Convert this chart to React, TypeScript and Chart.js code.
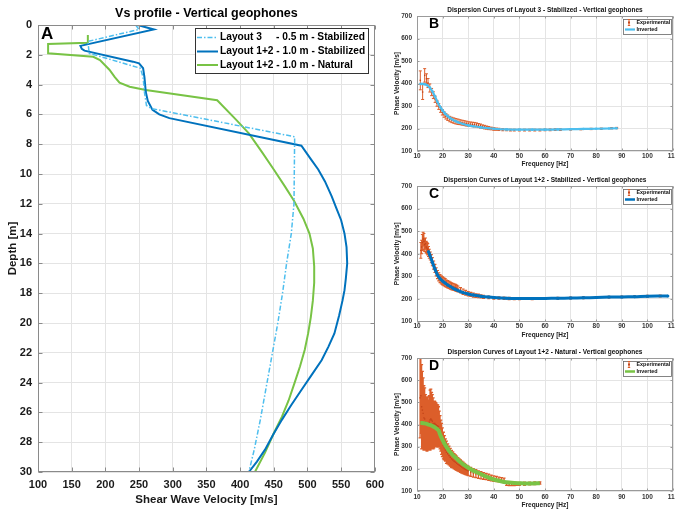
import React, { useEffect, useRef } from "react";
import { Chart, registerables } from "chart.js";
Chart.register(...registerables);

const FONT = "'Liberation Sans', Arial, Helvetica, sans-serif";

// ---------------- Panel A : Vs profiles ----------------
const A_TITLE = "Vs profile - Vertical geophones";
const A_X_TITLE = "Shear Wave Velocity [m/s]";
const A_Y_TITLE = "Depth [m]";
const A_LEGEND = [
  "Layout 3     - 0.5 m - Stabilized",
  "Layout 1+2 - 1.0 m - Stabilized",
  "Layout 1+2 - 1.0 m - Natural",
];

const A_L3_DEPTH = [0, 0.3, 1.1, 1.9, 2.9, 3.5, 4.5, 5.4, 5.6, 7.5, 12, 14, 16, 18, 20, 24, 26.5, 28.5, 30];
const A_L3_VS = [245, 250, 174, 176, 252, 256, 258, 261, 268, 481, 480, 476, 469, 463, 456, 440, 430, 421, 413];

const A_S12_DEPTH = [0, 0.3, 1.4, 1.6, 1.72, 2.46, 2.57, 2.9, 3.5, 4.5, 5.1, 5.7, 6.0, 6.25, 8.1, 9, 9.7, 10.5, 11.5, 12.3, 13.1, 14, 14.9, 16, 17, 17.8, 18.5, 19.5, 20.7, 21.6, 22.5, 23.5, 24.5, 25.5, 26.5, 27.5, 28.5, 29.3, 30];
const A_S12_VS = [248, 272, 163, 165, 169, 241, 250, 256, 258, 260, 263, 270, 280, 295, 491, 505, 516, 526, 536, 543, 550, 555, 558, 559, 557, 555, 552, 547, 540, 531, 521, 506, 491, 476, 462, 449, 437, 425, 413];

const A_N12_DEPTH = [0.67, 1.19, 1.28, 1.9, 2.13, 2.35, 3.0, 3.5, 3.87, 4.14, 4.36, 5.05, 6.4, 7.27, 8.5, 9.7, 10.8, 11.8, 13, 14, 15, 16.2, 17.3, 18.5, 19.6, 20.7, 21.8, 22.9, 24, 25.2, 26.3, 27.4, 28.7, 30];
const A_N12_VS = [174, 174, 115, 115, 182, 192, 206, 214, 221, 236, 260, 366, 395, 413, 432, 450, 466, 480, 494, 503, 508, 510, 510, 508, 505, 501, 496, 489, 481, 472, 462, 450, 437, 422];

// ---------------- Panels B, C, D : dispersion curves ----------------
const B_TITLE = "Dispersion Curves of Layout 3 - Stabilized - Vertical geophones";
const C_TITLE = "Dispersion Curves of Layout 1+2 - Stabilized - Vertical geophones";
const D_TITLE = "Dispersion Curves of Layout 1+2 - Natural - Vertical geophones";
const DISP_X_TITLE = "Frequency [Hz]";
const DISP_Y_TITLE = "Phase Velocity [m/s]";
const DISP_LEGEND = ["Experimental", "Inverted"];

const B_EXP_FREQ = [11.3, 12.2, 13.0, 13.7, 14.3, 15.0, 15.7, 16.4, 17.1, 17.8, 18.5, 19.2, 19.9, 20.6, 21.3, 22.0, 22.8, 23.6, 24.4, 25.2, 26.0, 26.8, 27.6, 28.4, 29.2, 30.0, 30.8, 31.6, 32.4, 33.2, 34.0, 34.8, 35.6, 36.4, 37.2, 38.0, 39.0, 40.0, 41.0, 42.0, 43.5, 45, 46.5, 48, 50, 52, 54, 56, 58, 60, 62, 64, 66, 70, 74, 78, 82, 86, 88];
const B_EXP_VEL = [414, 362, 436, 421, 402, 380, 362, 348, 330, 312, 298, 284, 272, 262, 254, 248, 242, 238, 235, 232, 230, 228, 226, 224, 222, 220, 219, 218, 217, 216, 213, 211, 208, 206, 204, 202, 200, 198, 197, 196, 195, 194, 193, 193, 193, 193, 193, 193, 193, 194, 194, 195, 195, 196, 197, 198, 199, 201, 202];
const B_EXP_ERR = [42, 33, 30, 22, 20, 18, 16, 15, 14, 13, 13, 12, 12, 12, 12, 12, 12, 12, 12, 12, 12, 11, 11, 11, 11, 10, 10, 10, 10, 9, 9, 9, 8, 8, 7, 7, 6, 6, 5, 5, 5, 4, 4, 4, 4, 4, 4, 4, 4, 4, 4, 4, 4, 3, 3, 3, 3, 3, 3];
const B_INV_FREQ = [11.3, 12, 13, 14, 15, 16, 17, 18, 19, 20, 21, 22, 23, 24, 25, 26, 28, 30, 32, 35, 38, 40, 45, 50, 55, 60, 65, 70, 75, 80, 85, 88];
const B_INV_VEL = [398, 398, 397, 392, 382, 365, 343, 318, 297, 280, 266, 255, 246, 239, 233, 228, 220, 214, 210, 205, 201, 199, 196, 195, 195, 195, 196, 197, 198, 199, 200, 201];

const C_EXP_FREQ = [11.5, 11.8, 12.1, 12.4, 12.7, 13.0, 13.3, 13.6, 13.9, 14.2, 14.5, 14.8, 15.2, 15.6, 16.0, 16.5, 17.0, 17.5, 18.0, 18.5, 19.0, 19.5, 20.0, 20.5, 21.0, 21.5, 22.0, 22.5, 23.0, 23.5, 24.0, 24.5, 25.0, 25.5, 26.0, 27.0, 28.0, 29.0, 30.0, 31.0, 32, 33, 34, 35, 36, 38, 40, 42, 44, 46, 48, 50, 55, 60, 65, 70, 75, 80, 85, 90, 95, 100, 105];
const C_EXP_VEL = [415, 430, 450, 465, 455, 440, 445, 430, 425, 420, 410, 400, 390, 378, 365, 350, 335, 320, 308, 298, 290, 284, 280, 276, 272, 268, 265, 262, 259, 256, 254, 252, 250, 247, 244, 238, 232, 227, 223, 220, 217, 215, 213, 211, 209, 207, 205, 204, 203, 202, 201, 201, 201, 202, 203, 204, 205, 207, 208, 209, 210, 212, 213];
const C_EXP_ERR = [35, 30, 35, 30, 35, 30, 25, 25, 25, 25, 22, 20, 18, 18, 18, 18, 18, 18, 18, 18, 18, 18, 18, 18, 18, 16, 16, 16, 16, 15, 15, 15, 15, 14, 13, 12, 12, 11, 10, 9, 9, 8, 8, 7, 7, 6, 6, 5, 5, 5, 4, 4, 4, 4, 4, 4, 4, 4, 4, 4, 4, 4, 4];
const C_INV_FREQ = [14.5, 15, 16, 17, 18, 19, 20, 21, 22, 23, 24, 25, 26, 28, 30, 32, 35, 38, 40, 45, 50, 55, 60, 65, 70, 75, 80, 85, 90, 95, 100, 108];
const C_INV_VEL = [410, 395, 362, 332, 306, 290, 279, 270, 262, 255, 248, 242, 237, 228, 222, 217, 212, 208, 206, 203, 202, 202, 202, 203, 204, 205, 206, 208, 209, 210, 212, 213];

const D_EXP_FREQ = [11.2, 11.5, 11.8, 12.1, 12.4, 12.7, 13.0, 13.3, 13.6, 13.9, 14.2, 14.5, 14.8, 15.1, 15.4, 15.7, 16.0, 16.3, 16.6, 16.9, 17.2, 17.5, 17.8, 18.1, 18.4, 18.7, 19.0, 19.3, 19.6, 19.9, 20.3, 20.7, 21.1, 21.5, 22.0, 22.5, 23.0, 23.5, 24.0, 24.5, 25.0, 25.5, 26.0, 26.5, 27.0, 27.5, 28.0, 28.5, 29.0, 29.5, 30, 31, 32, 33, 34, 35, 36, 37, 38, 39, 40, 41, 42, 43, 44, 45, 46, 47, 48, 49, 50, 52, 54, 56, 58];
const D_EXP_VEL = [520, 530, 480, 465, 450, 430, 425, 410, 405, 400, 405, 400, 410, 420, 425, 420, 415, 405, 400, 405, 400, 398, 395, 393, 390, 380, 365, 350, 335, 320, 305, 295, 285, 275, 268, 260, 252, 245, 240, 234, 230, 225, 220, 216, 212, 208, 204, 200, 197, 194, 191, 186, 182, 178, 174, 171, 168, 165, 162, 159, 156, 154, 152, 150, 148, 133, 132, 132, 132, 132, 132, 133, 134, 135, 136];
const D_EXP_ERR = [180, 170, 190, 175, 160, 145, 140, 125, 120, 120, 120, 110, 120, 135, 135, 125, 120, 115, 105, 100, 100, 98, 95, 95, 90, 80, 75, 70, 70, 65, 60, 55, 50, 50, 45, 42, 40, 38, 36, 34, 33, 32, 30, 29, 28, 27, 26, 24, 23, 22, 21, 20, 19, 18, 17, 16, 15, 14, 14, 13, 12, 12, 11, 10, 10, 8, 8, 8, 8, 7, 7, 7, 6, 6, 5];
const D_INV_FREQ = [11.3, 12, 13, 14, 15, 16, 17, 18, 18.5, 19, 20, 21, 22, 23, 24, 25, 26, 27, 28, 30, 32, 34, 36, 38, 40, 42, 44, 46, 48, 50, 52, 55, 58];
const D_INV_VEL = [407, 407, 405, 402, 398, 393, 387, 378, 372, 355, 330, 308, 290, 275, 262, 251, 240, 230, 220, 205, 192, 181, 170, 160, 152, 146, 141, 138, 136, 135, 134, 134, 135];

// ---------------- styles ----------------
const COL_L3 = "#4DBEEE";
const COL_S12 = "#0072BD";
const COL_N12 = "#78C345";
const COL_EXP = "#DC5E2A";
const COL_EXP_DOT = "#C4461A";
const GRID = "#e4e4e4";

const pts = (xs: number[], ys: number[]) => {
  const n = Math.min(xs.length, ys.length);
  const out: { x: number; y: number }[] = [];
  for (let i = 0; i < n; i++) out.push({ x: xs[i], y: ys[i] });
  return out;
};

type Area = { l: number; t: number; r: number; b: number };

function boxPlugin(color: string, tickLen: number) {
  return {
    id: "boxTicks",
    afterDatasetsDraw(chart: any) {
      const { ctx, chartArea: a, scales } = chart;
      ctx.save();
      ctx.strokeStyle = color;
      ctx.lineWidth = 1;
      const L = Math.round(a.left) + 0.5, R = Math.round(a.right) - 0.5;
      const T = Math.round(a.top) + 0.5, B = Math.round(a.bottom) - 0.5;
      ctx.strokeRect(L, T, R - L, B - T);
      ctx.beginPath();
      scales.x.ticks.forEach((t: any) => {
        const px = Math.round(scales.x.getPixelForValue(t.value)) + 0.5;
        ctx.moveTo(px, B); ctx.lineTo(px, B - tickLen);
        ctx.moveTo(px, T); ctx.lineTo(px, T + tickLen);
      });
      scales.y.ticks.forEach((t: any) => {
        const py = Math.round(scales.y.getPixelForValue(t.value)) + 0.5;
        ctx.moveTo(L, py); ctx.lineTo(L + tickLen, py);
        ctx.moveTo(R, py); ctx.lineTo(R - tickLen, py);
      });
      ctx.stroke();
      ctx.restore();
    },
  };
}

function makePanelA(W: number, H: number): any {
  const area: Area = { l: 38, t: 25, r: 377, b: 472 };
  const base = { showLine: true, pointRadius: 0, fill: false, tension: 0 };
  const datasets = [
    { ...base, label: A_LEGEND[0], data: pts(A_L3_VS, A_L3_DEPTH), borderColor: COL_L3, backgroundColor: COL_L3, borderWidth: 1.5, borderDash: [5, 2, 1.5, 2] },
    { ...base, label: A_LEGEND[1], data: pts(A_S12_VS, A_S12_DEPTH), borderColor: COL_S12, backgroundColor: COL_S12, borderWidth: 2 },
    { ...base, label: A_LEGEND[2], data: pts(A_N12_VS, A_N12_DEPTH), borderColor: COL_N12, backgroundColor: COL_N12, borderWidth: 2 },
  ];
  const tickFont = { family: FONT, size: 11, weight: "bold" };
  const titleFont = { family: FONT, size: 11.5, weight: "bold" };
  const deco = {
    id: "decoA",
    afterDraw(chart: any) {
      const { ctx, chartArea: a } = chart;
      ctx.save();
      ctx.fillStyle = "#000";
      ctx.textBaseline = "middle";
      ctx.textAlign = "center";
      ctx.font = `bold 12.5px ${FONT}`;
      ctx.fillText(A_TITLE, (a.left + a.right) / 2, a.top - 11);
      ctx.textAlign = "left";
      ctx.font = `bold 17px ${FONT}`;
      ctx.fillText("A", a.left + 3, a.top + 9);
      // legend
      const bx = a.left + 157, by = a.top + 3, bw = a.right - 7 - bx, bh = 45;
      ctx.fillStyle = "#fff";
      ctx.fillRect(bx, by, bw, bh);
      ctx.strokeStyle = "#333";
      ctx.lineWidth = 1;
      ctx.strokeRect(Math.round(bx) + 0.5, Math.round(by) + 0.5, Math.round(bw), Math.round(bh));
      const rows = [by + 9.5, by + 23.5, by + 37];
      ctx.font = `bold 10.2px ${FONT}`;
      datasets.forEach((d: any, i: number) => {
        ctx.save();
        ctx.strokeStyle = d.borderColor;
        ctx.lineWidth = d.borderWidth;
        ctx.setLineDash(d.borderDash || []);
        ctx.beginPath();
        ctx.moveTo(bx + 2, rows[i]);
        ctx.lineTo(bx + 23, rows[i]);
        ctx.stroke();
        ctx.restore();
        ctx.fillStyle = "#000";
        ctx.fillText(d.label, bx + 25, rows[i]);
      });
      ctx.restore();
    },
  };
  return {
    type: "scatter",
    data: { datasets },
    options: {
      responsive: false,
      animation: false,
      events: [],
      layout: { padding: { left: 0, top: area.t, right: W - area.r, bottom: 0 } },
      plugins: { legend: { display: false }, title: { display: false }, tooltip: { enabled: false } },
      scales: {
        x: {
          type: "linear", position: "bottom", min: 100, max: 600,
          ticks: { stepSize: 50, padding: 6, autoSkip: false, maxRotation: 0, font: tickFont, color: "#1a1a1a" },
          grid: { color: GRID, drawTicks: false },
          border: { display: false },
          title: { display: true, text: A_X_TITLE, font: titleFont, color: "#1a1a1a", padding: { top: 0, bottom: 5 } },
          afterFit: (s: any) => { s.height = H - area.b; },
        },
        y: {
          type: "linear", position: "left", reverse: true, min: 0, max: 30,
          ticks: { stepSize: 2, padding: 6, autoSkip: false, font: tickFont, color: "#1a1a1a" },
          grid: { color: GRID, drawTicks: false },
          border: { display: false },
          title: { display: true, text: A_Y_TITLE, font: titleFont, color: "#1a1a1a", padding: { top: 6, bottom: 0 } },
          afterFit: (s: any) => { s.width = area.l; },
        },
      },
    },
    plugins: [boxPlugin("#8a8a8a", 4), deco],
  };
}

type DispSpec = {
  letter: string;
  title: string;
  area: Area;
  expF: number[];
  expV: number[];
  expE: number[];
  invF: number[];
  invV: number[];
  invColor: string;
  invWidth: number;
  invPoint: number;
  barWidth: number;
  tickPad: number;
  xTitlePad: number;
};

const PANEL_B: DispSpec = {
  letter: "B", title: B_TITLE, area: { l: 27, t: 16, r: 283, b: 151 },
  expF: B_EXP_FREQ, expV: B_EXP_VEL, expE: B_EXP_ERR, invF: B_INV_FREQ, invV: B_INV_VEL,
  invColor: COL_L3, invWidth: 2.2, invPoint: 1.3, barWidth: 1, tickPad: 1, xTitlePad: 2,
};
const PANEL_C: DispSpec = {
  letter: "C", title: C_TITLE, area: { l: 27, t: 16, r: 283, b: 151.5 },
  expF: C_EXP_FREQ, expV: C_EXP_VEL, expE: C_EXP_ERR, invF: C_INV_FREQ, invV: C_INV_VEL,
  invColor: COL_S12, invWidth: 3, invPoint: 1.5, barWidth: 1.1, tickPad: 1, xTitlePad: 1,
};
const PANEL_D: DispSpec = {
  letter: "D", title: D_TITLE, area: { l: 27, t: 18, r: 283, b: 151 },
  expF: D_EXP_FREQ, expV: D_EXP_VEL, expE: D_EXP_ERR, invF: D_INV_FREQ, invV: D_INV_VEL,
  invColor: COL_N12, invWidth: 4, invPoint: 0, barWidth: 1.3, tickPad: 2, xTitlePad: 2.5,
};

function makeDisp(W: number, H: number, sp: DispSpec): any {
  const area = sp.area;
  const tickFont = { family: FONT, size: 6.5, weight: "bold" };
  const errPlugin = {
    id: "errbars",
    beforeDatasetsDraw(chart: any) {
      const { ctx, chartArea: a, scales } = chart;
      const xs = scales.x, ys = scales.y;
      ctx.save();
      ctx.beginPath();
      ctx.rect(a.left, a.top, a.right - a.left, a.bottom - a.top);
      ctx.clip();
      ctx.strokeStyle = COL_EXP;
      ctx.lineWidth = sp.barWidth;
      ctx.beginPath();
      const n = Math.min(sp.expF.length, sp.expV.length, sp.expE.length);
      for (let i = 0; i < n; i++) {
        const px = xs.getPixelForValue(sp.expF[i]);
        const lo = ys.getPixelForValue(sp.expV[i] - sp.expE[i]);
        const hi = ys.getPixelForValue(sp.expV[i] + sp.expE[i]);
        ctx.moveTo(px, lo); ctx.lineTo(px, hi);
        ctx.moveTo(px - 1.5, lo); ctx.lineTo(px + 1.5, lo);
        ctx.moveTo(px - 1.5, hi); ctx.lineTo(px + 1.5, hi);
      }
      ctx.stroke();
      ctx.restore();
    },
  };
  const deco = {
    id: "decoDisp",
    afterDraw(chart: any) {
      const { ctx, chartArea: a } = chart;
      ctx.save();
      ctx.fillStyle = "#111";
      ctx.textBaseline = "middle";
      ctx.textAlign = "center";
      ctx.font = `bold 6.5px ${FONT}`;
      ctx.fillText(sp.title, (a.left + a.right) / 2, a.top - 6);
      ctx.textAlign = "center";
      ctx.font = `bold 14px ${FONT}`;
      ctx.fillStyle = "#000";
      ctx.fillText(sp.letter, a.left + 17, a.top + 8);
      // legend
      const bx = a.right - 50, by = a.top + 2.5, bw = 48, bh = 15;
      ctx.fillStyle = "#fff";
      ctx.fillRect(bx, by, bw, bh);
      ctx.strokeStyle = "#666";
      ctx.lineWidth = 0.8;
      ctx.strokeRect(Math.round(bx) + 0.5, Math.round(by) + 0.5, bw, bh);
      const r1 = by + 4, r2 = by + 11;
      // error bar icon
      ctx.strokeStyle = COL_EXP;
      ctx.lineWidth = 1;
      ctx.beginPath();
      ctx.moveTo(bx + 6, r1 - 3); ctx.lineTo(bx + 6, r1 + 3);
      ctx.moveTo(bx + 4.8, r1 - 3); ctx.lineTo(bx + 7.2, r1 - 3);
      ctx.moveTo(bx + 4.8, r1 + 3); ctx.lineTo(bx + 7.2, r1 + 3);
      ctx.stroke();
      ctx.fillStyle = COL_EXP_DOT;
      ctx.fillRect(bx + 5, r1 - 1, 2, 2);
      // inverted line icon
      ctx.strokeStyle = sp.invColor;
      ctx.lineWidth = Math.min(sp.invWidth, 2.5);
      ctx.beginPath();
      ctx.moveTo(bx + 2, r2); ctx.lineTo(bx + 12, r2);
      ctx.stroke();
      ctx.fillStyle = "#111";
      ctx.textAlign = "left";
      ctx.font = `bold 5.4px ${FONT}`;
      ctx.fillText(DISP_LEGEND[0], bx + 13.5, r1);
      ctx.fillText(DISP_LEGEND[1], bx + 13.5, r2);
      ctx.restore();
    },
  };
  const datasets = [
    {
      label: DISP_LEGEND[1], data: pts(sp.invF, sp.invV), showLine: true, tension: 0.3,
      borderColor: sp.invColor, backgroundColor: sp.invColor, borderWidth: sp.invWidth,
      pointRadius: sp.invPoint, pointBorderWidth: 0, pointBackgroundColor: sp.invColor,
    },
    {
      label: DISP_LEGEND[0], data: pts(sp.expF, sp.expV), showLine: false,
      pointRadius: 1, pointStyle: "rect", pointBorderWidth: 0, pointBackgroundColor: COL_EXP_DOT,
      backgroundColor: COL_EXP_DOT, borderColor: COL_EXP_DOT,
    },
  ];
  return {
    type: "scatter",
    data: { datasets },
    options: {
      responsive: false,
      animation: false,
      events: [],
      layout: { padding: { left: 0, top: area.t, right: W - area.r, bottom: 0 } },
      plugins: { legend: { display: false }, title: { display: false }, tooltip: { enabled: false } },
      scales: {
        x: {
          type: "linear", position: "bottom", min: 10, max: 110,
          ticks: { stepSize: 10, padding: sp.tickPad, autoSkip: false, maxRotation: 0, font: tickFont, color: "#333" },
          grid: { color: GRID, drawTicks: false },
          border: { display: false },
          title: { display: true, text: DISP_X_TITLE, font: tickFont, color: "#222", padding: { top: 0, bottom: sp.xTitlePad } },
          afterFit: (s: any) => { s.height = H - area.b; },
        },
        y: {
          type: "linear", position: "left", min: 100, max: 700,
          ticks: { stepSize: 100, padding: 5, autoSkip: false, font: tickFont, color: "#333" },
          grid: { color: GRID, drawTicks: false },
          border: { display: false },
          title: { display: true, text: DISP_Y_TITLE, font: tickFont, color: "#222", padding: { top: 3.5, bottom: 0 } },
          afterFit: (s: any) => { s.width = area.l; },
        },
      },
    },
    plugins: [errPlugin, boxPlugin("#9a9a9a", 2), deco],
  };
}

function ChartBox(props: { left: number; top: number; width: number; height: number; make: (w: number, h: number) => any }) {
  const { left, top, width, height, make } = props;
  const ref = useRef<HTMLCanvasElement>(null);
  useEffect(() => {
    const el = ref.current as HTMLCanvasElement;
    const chart = new Chart(el, make(width, height));
    return () => chart.destroy();
  }, []);
  return (
    <canvas
      ref={ref}
      width={width}
      height={height}
      style={{ position: "absolute", left, top, width, height, display: "block" }}
    />
  );
}

export default function App() {
  return (
    <div style={{ position: "absolute", left: 0, top: 0, width: 675, height: 512, overflow: "hidden", background: "#fff" }}>
      <ChartBox left={0} top={0} width={390} height={512} make={makePanelA} />
      <ChartBox left={390} top={0} width={300} height={170} make={(w, h) => makeDisp(w, h, PANEL_B)} />
      <ChartBox left={390} top={170} width={300} height={170} make={(w, h) => makeDisp(w, h, PANEL_C)} />
      <ChartBox left={390} top={340} width={300} height={172} make={(w, h) => makeDisp(w, h, PANEL_D)} />
    </div>
  );
}
